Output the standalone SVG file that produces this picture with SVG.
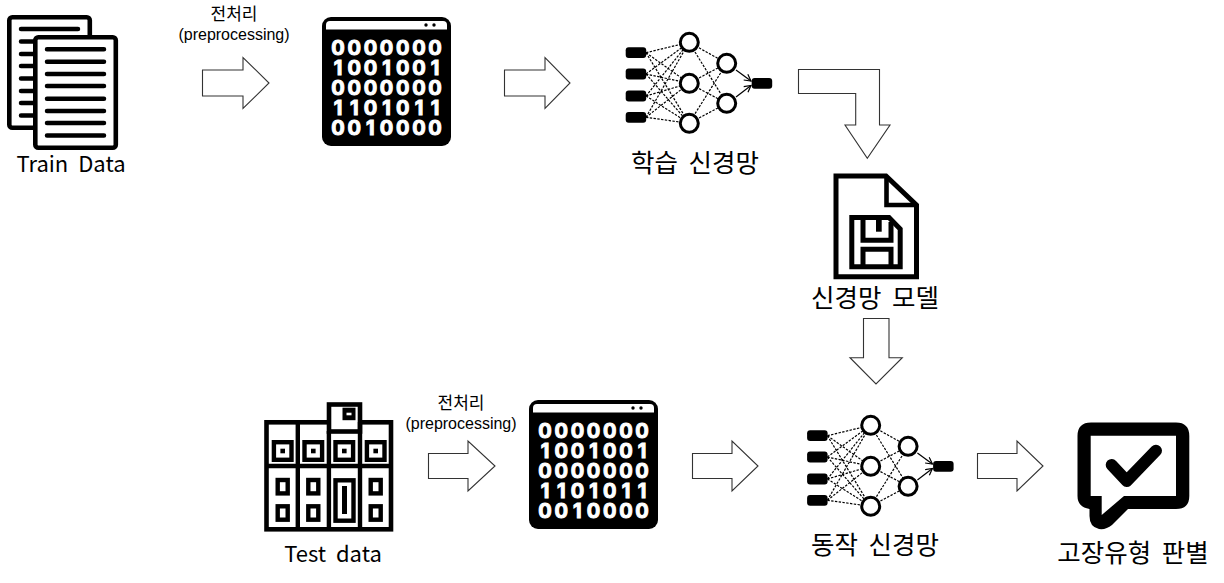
<svg xmlns="http://www.w3.org/2000/svg" width="1224" height="583" viewBox="0 0 1224 583">
<style>
text{font-family:"Noto Sans CJK KR","Noto Sans",sans-serif;fill:#000;text-anchor:middle}
.lab{font-size:22px;word-spacing:5px}
.ko{font-size:25.5px;word-spacing:5px}
.sm{font-family:"Liberation Sans",sans-serif;font-size:16px}
.smk{font-size:17px}
.hollow{fill:#fff;stroke:#333;stroke-width:1.1}
.bits text{font-family:Inter,sans-serif;font-weight:700;font-size:20px;fill:#fff;stroke:#fff;stroke-width:1}
.ln{stroke:#000;stroke-width:4.5;stroke-linecap:round;fill:none}
.k{fill:#fff;stroke:#000;stroke-width:4.6}
.syn{stroke:#000;stroke-width:1.2;stroke-dasharray:2.4 1.4;fill:none}
.ner{fill:#fff;stroke:#000;stroke-width:3}
.arr{stroke:#000;stroke-width:1.2;fill:none;marker-end:url(#open)}
</style>
<defs>
<marker id="open" markerWidth="9" markerHeight="9" refX="7.5" refY="4" orient="auto" markerUnits="userSpaceOnUse"><path d="M1 .5L7.5 4L1 7.5" fill="none" stroke="#000" stroke-width="1.2"/></marker>
<g id="window">
<rect x="322" y="17" width="129" height="129" rx="9" fill="#000"/>
<path d="M326 29.500V25Q326 21 330 21H443Q447 21 447 25V29.500Z" fill="#fff"/>
<circle cx="426" cy="25" r="1.7" fill="#000"/><circle cx="434" cy="25" r="1.7" fill="#000"/>
<g class="bits">
<text x="338 354.200 370.400 386.600 402.800 419 435" y="54.500">0000000</text>
<text x="338 354.200 370.400 386.600 402.800 419 435" y="74.500">1001001</text>
<text x="338 354.200 370.400 386.600 402.800 419 435" y="94.500">0000000</text>
<text x="338 354.200 370.400 386.600 402.800 419 435" y="114.500">1101011</text>
<text x="338 354.200 370.400 386.600 402.800 419 435" y="134.500">0010000</text>
</g>
</g>
<g id="net">
<path class="syn" d="M646 52.700L689 42.300M646 52.700L689 83.300M646 52.700L689 123.300M646 74L689 42.300M646 74L689 83.300M646 74L689 123.300M646 96L689 42.300M646 96L689 83.300M646 96L689 123.300M646 117.300L689 42.300M646 117.300L689 83.300M646 117.300L689 123.300M689 42.300L726.700 63.300M689 42.300L726.700 103.300M689 83.300L726.700 63.300M689 83.300L726.700 103.300M689 123.300L726.700 63.300M689 123.300L726.700 103.300"/>
<path class="arr" d="M736 70L751 81"/>
<path class="arr" d="M736 97L751 85.500"/>
<rect x="625.700" y="47.300" width="20.500" height="10.800" rx="3" fill="#000"/>
<rect x="625.700" y="68.600" width="20.500" height="10.800" rx="3" fill="#000"/>
<rect x="625.700" y="90.600" width="20.500" height="10.800" rx="3" fill="#000"/>
<rect x="625.700" y="111.900" width="20.500" height="10.800" rx="3" fill="#000"/>
<rect x="751.700" y="77.900" width="20.500" height="10.800" rx="3" fill="#000"/>
<circle class="ner" cx="689.300" cy="42.300" r="9"/><circle class="ner" cx="689.300" cy="83.300" r="9"/><circle class="ner" cx="689.300" cy="123.300" r="9"/>
<circle class="ner" cx="726.700" cy="63.300" r="9"/><circle class="ner" cx="726.700" cy="103.300" r="9"/>
</g>
</defs>

<g id="connectors">
<polygon class="hollow" points="202.500,70 243,70 243,57.500 269,83 243,108.500 243,96 202.500,96"/>
<polygon class="hollow" points="504.500,70 545,70 545,57.500 570,83 545,108.500 545,96 504.500,96"/>
<polygon class="hollow" points="798.500,69.500 879.500,69.500 879.500,125 890,125 867.300,158.300 845,125 855.700,125 855.700,93.500 798.500,93.500"/>
<polygon class="hollow" points="863.500,318.500 889,318.500 889,357.700 902.300,357.700 876,384 850,357.700 863.500,357.700"/>
<polygon class="hollow" points="428.500,453.500 468,453.500 468,441 495,466 468,491 468,478.500 428.500,478.500"/>
<polygon class="hollow" points="692.500,453.500 732,453.500 732,441 758,466 732,491 732,478.500 692.500,478.500"/>
<polygon class="hollow" points="977.500,453.500 1017,453.500 1017,441 1043,466 1017,491 1017,478.500 977.500,478.500"/>
</g>

<g id="train-data">
<rect class="k" x="9.300" y="17.300" width="80.500" height="110.500" rx="3"/>
<path class="ln" d="M21 29H78M21 41.500H78M21 54H78M21 66H78M21 78.500H78M21 91H78M21 103H78M21 115.500H78"/>
<rect class="k" x="35.300" y="37.300" width="80.500" height="110.500" rx="3"/>
<path class="ln" d="M47 49.300H104M47 61.700H104M47 74H104M47 86H104M47 98.700H104M47 111H104M47 123H104M47 135.500H104"/>
<text class="lab" x="71" y="172">Train Data</text>
</g>

<g id="preprocess-1">
<text class="smk" x="234" y="20">전처리</text>
<text class="sm" x="234" y="40">(preprocessing)</text>
</g>

<g id="binary-1"><use href="#window"/></g>

<g id="train-network">
<use href="#net"/>
<text class="ko" x="695" y="172">학습 신경망</text>
</g>

<g id="model">
<path d="M836 176H886L916.500 205V276.800H836Z" fill="#fff" stroke="#000" stroke-width="5"/>
<path d="M886.500 176V205H916" fill="none" stroke="#000" stroke-width="4.600"/>
<path d="M851.800 217.500H889L900.200 229V266.800H851.800Z" fill="#fff" stroke="#000" stroke-width="5"/>
<path d="M863 217.500V240.200H891V222" fill="none" stroke="#000" stroke-width="5"/>
<rect x="876" y="217.500" width="5.700" height="14.200" fill="#000"/>
<path d="M863 266.800V249.200H891V266.800" fill="none" stroke="#000" stroke-width="5"/>
<text class="ko" x="875" y="307">신경망 모델</text>
</g>

<g id="test-data">
<rect x="266.500" y="422.300" width="124.500" height="107" fill="#fff" stroke="#000" stroke-width="4.600"/>
<rect x="329" y="404.500" width="31" height="27" fill="#fff" stroke="#000" stroke-width="4.600"/>
<path d="M297.800 422V529M328.900 431V529M360 422V529M266 466H391" stroke="#000" stroke-width="4.400" fill="none"/>
<rect x="342.500" y="407.700" width="13" height="12.500" fill="#000"/><rect x="346.500" y="412.700" width="5" height="2.600" fill="#fff"/>
<g fill="#fff" stroke="#000" stroke-width="4.400">
<rect x="273.900" y="442.200" width="17.600" height="17.600"/><rect x="304.500" y="442.200" width="17.600" height="17.600"/><rect x="335.500" y="442.200" width="17.600" height="17.600"/><rect x="366.900" y="442.200" width="17.600" height="17.600"/>
<rect x="277.700" y="480" width="10" height="13.400"/><rect x="308.300" y="480" width="10" height="13.400"/><rect x="370.700" y="480" width="10" height="13.400"/>
<rect x="277.700" y="506.300" width="10" height="13.400"/><rect x="308.300" y="506.300" width="10" height="13.400"/><rect x="370.700" y="506.300" width="10" height="13.400"/>
<rect x="335.500" y="480.300" width="18" height="40.400"/>
</g>
<g fill="#000">
<rect x="280.400" y="448.700" width="4.600" height="4.600"/><rect x="311" y="448.700" width="4.600" height="4.600"/><rect x="342" y="448.700" width="4.600" height="4.600"/><rect x="373.400" y="448.700" width="4.600" height="4.600"/>
<rect x="342" y="486" width="5" height="28"/>
</g>
<text class="lab" x="333" y="562">Test data</text>
</g>

<g id="preprocess-2">
<text class="smk" x="461" y="409">전처리</text>
<text class="sm" x="461" y="429">(preprocessing)</text>
</g>

<g id="binary-2"><use href="#window" x="207" y="383"/></g>

<g id="run-network">
<use href="#net" x="181.400" y="383"/>
<text class="ko" x="875" y="554">동작 신경망</text>
</g>

<g id="verdict">
<path fill-rule="evenodd" fill="#000" d="M1091 422.500H1176Q1189.300 422.500 1189.300 436V496Q1189.300 509 1176 509H1128L1112 525Q1106 530 1099 529Q1089.500 527 1089.500 516V509Q1077.500 507 1077.500 496V436Q1077.500 422.500 1091 422.500ZM1090.700 435.700V496H1101.700V515L1124 496H1176V435.700Z"/>
<path d="M1111.700 465L1126.700 481L1156 450.700" fill="none" stroke="#000" stroke-width="12" stroke-linecap="round" stroke-linejoin="round"/>
<text class="ko" x="1133" y="562">고장유형 판별</text>
</g>
</svg>
